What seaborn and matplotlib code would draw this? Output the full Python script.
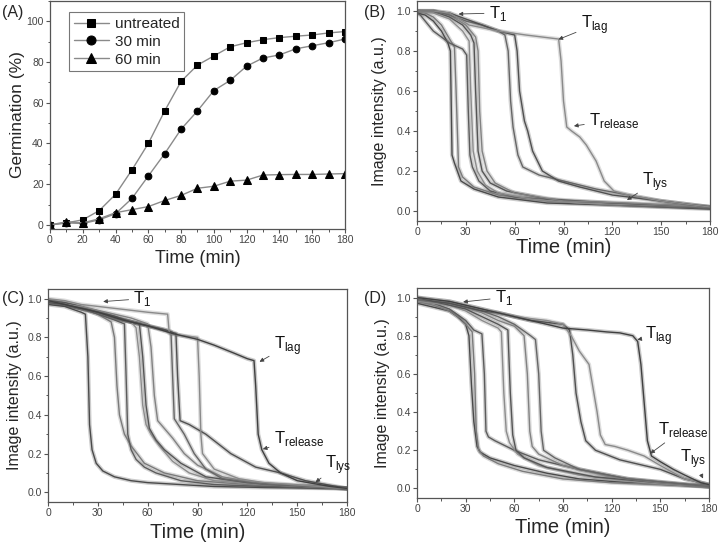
import pandas as pd
import seaborn as sns
import matplotlib.pyplot as plt
from matplotlib.ticker import MultipleLocator

# ---- Panel A: germination (%) vs time ----
time_a = [0, 10, 20, 30, 40, 50, 60, 70, 80, 90, 100, 110, 120, 130, 140, 150, 160, 170, 180]
untreated = [0, 1, 2.5, 7, 15, 27, 40, 56, 70.5, 78.5, 83, 87.5, 89.5, 91, 92, 92.7, 93.3, 94.3, 95]
min30 = [0, 1, 0.7, 2.5, 5.5, 13, 24, 35, 47, 56, 66, 71, 78, 82, 83.5, 86.5, 88, 89.5, 91.3]
min60 = [0, 1.5, 1, 3, 6, 7.5, 9, 12, 14.5, 18, 19, 21.5, 22, 24.5, 24.7, 24.8, 24.8, 25, 25.2]
series_a = ["untreated", "30 min", "60 min"]

# ---- Panels B-D: image intensity traces (key points) ----
traces_b = [
    ([0, 5, 10, 15, 19, 20.5, 21.5, 23, 27, 35, 50, 80, 120, 180],
     [0.99, 0.98, 0.95, 0.9, 0.84, 0.8, 0.28, 0.24, 0.15, 0.11, 0.07, 0.04, 0.03, 0.01]),
    ([0, 5, 10, 15, 20, 23, 24, 25.5, 28, 35, 50, 80, 120, 180],
     [1.0, 0.99, 0.97, 0.93, 0.86, 0.82, 0.6, 0.22, 0.17, 0.12, 0.08, 0.05, 0.03, 0.015]),
    ([0, 2, 10, 20, 28, 30.5, 31.5, 32.5, 34, 38, 45, 60, 90, 130, 180],
     [0.99, 0.98, 0.9, 0.84, 0.81, 0.78, 0.5, 0.28, 0.22, 0.15, 0.1, 0.07, 0.05, 0.03, 0.015]),
    ([0, 10, 20, 28, 32, 33, 34.5, 37, 42, 50, 70, 100, 140, 180],
     [1.0, 0.99, 0.96, 0.9, 0.85, 0.6, 0.3, 0.2, 0.13, 0.09, 0.06, 0.04, 0.03, 0.02]),
    ([0, 10, 20, 28, 33, 35, 36, 37.5, 40, 45, 55, 80, 120, 180],
     [1.0, 1.0, 0.97, 0.93, 0.88, 0.84, 0.6, 0.3, 0.2, 0.14, 0.1, 0.06, 0.04, 0.02]),
    ([0, 10, 20, 30, 36, 37.5, 38.5, 40, 43, 48, 60, 90, 130, 180],
     [1.0, 1.0, 0.98, 0.93, 0.87, 0.8, 0.5, 0.3, 0.2, 0.14, 0.09, 0.05, 0.04, 0.02]),
    ([0, 10, 20, 30, 40, 50, 54, 56, 57.5, 59, 62, 65, 75, 90, 110, 130, 150, 180],
     [1.0, 1.0, 0.98, 0.95, 0.93, 0.9, 0.88, 0.8, 0.55, 0.42, 0.28, 0.22, 0.18, 0.15, 0.11, 0.08, 0.05, 0.02]),
    ([0, 10, 20, 30, 40, 50, 60, 61.5, 63, 66, 68, 71, 77, 87, 100, 120, 150, 180],
     [1.0, 1.0, 0.99, 0.96, 0.93, 0.9, 0.88, 0.8, 0.6, 0.45, 0.4, 0.3, 0.2, 0.15, 0.12, 0.08, 0.05, 0.02]),
    ([0, 10, 20, 32, 50, 67, 87, 88.5, 90, 92, 95, 100, 104, 110, 115, 121, 130, 150, 180],
     [1.0, 1.0, 0.99, 0.93, 0.9, 0.88, 0.86, 0.75, 0.55, 0.42, 0.4, 0.37, 0.33, 0.25, 0.15, 0.1, 0.08, 0.05, 0.02]),
]
traces_c = [
    ([0, 10, 20, 22.5, 24, 25, 26.5, 29, 33, 40, 50, 60, 80, 100, 130, 180],
     [0.97, 0.96, 0.93, 0.92, 0.7, 0.35, 0.22, 0.15, 0.11, 0.08, 0.06, 0.05, 0.04, 0.03, 0.025, 0.02]),
    ([0, 10, 20, 30, 38, 40, 41.5, 43, 46, 50, 58, 70, 90, 120, 150, 180],
     [0.99, 0.97, 0.95, 0.92, 0.88, 0.8, 0.55, 0.4, 0.3, 0.24, 0.15, 0.1, 0.06, 0.04, 0.03, 0.02]),
    ([0, 10, 20, 30, 40, 46, 47, 48, 50, 53, 58, 65, 80, 100, 130, 180],
     [0.98, 0.97, 0.95, 0.92, 0.89, 0.87, 0.6, 0.3, 0.22, 0.17, 0.13, 0.1, 0.06, 0.04, 0.03, 0.02]),
    ([0, 10, 20, 30, 40, 50, 53, 55, 57, 59, 62, 67, 75, 85, 100, 130, 180],
     [0.99, 0.98, 0.95, 0.93, 0.9, 0.88, 0.85, 0.7, 0.45, 0.35, 0.3, 0.24, 0.16, 0.1, 0.06, 0.04, 0.02]),
    ([0, 10, 20, 30, 40, 50, 55, 57, 59, 61, 65, 70, 80, 95, 120, 180],
     [0.99, 0.98, 0.96, 0.93, 0.9, 0.88, 0.87, 0.7, 0.45, 0.33, 0.27, 0.22, 0.15, 0.08, 0.05, 0.02]),
    ([0, 10, 20, 30, 40, 50, 60, 62, 64, 66, 70, 75, 82, 90, 105, 130, 180],
     [0.98, 0.97, 0.96, 0.94, 0.92, 0.9, 0.87, 0.75, 0.5, 0.37, 0.33, 0.28, 0.2, 0.14, 0.08, 0.04, 0.02]),
    ([0, 10, 20, 30, 40, 50, 60, 70, 74, 75, 76, 82, 88, 95, 105, 130, 180],
     [0.99, 0.97, 0.95, 0.93, 0.9, 0.88, 0.86, 0.84, 0.83, 0.6, 0.38, 0.3, 0.2, 0.12, 0.07, 0.04, 0.02]),
    ([0, 10, 20, 30, 40, 50, 60, 70, 77, 78, 79.5, 85, 95, 110, 125, 140, 155, 180],
     [0.98, 0.97, 0.95, 0.93, 0.91, 0.88, 0.86, 0.84, 0.82, 0.6, 0.37, 0.35, 0.3, 0.2, 0.13, 0.1, 0.06, 0.02]),
    ([0, 10, 20, 30, 40, 50, 60, 72, 73, 80, 90, 91, 92, 93, 100, 115, 130, 180],
     [1.0, 0.99, 0.97, 0.96, 0.95, 0.94, 0.93, 0.92, 0.82, 0.81, 0.8, 0.6, 0.3, 0.2, 0.12, 0.07, 0.05, 0.02]),
    ([0, 15, 30, 45, 60, 75, 90, 100, 111.6, 120, 124, 125, 126.5, 128.7, 133, 140, 150, 170, 180],
     [0.99, 0.96, 0.93, 0.89, 0.86, 0.82, 0.79, 0.76, 0.72, 0.69, 0.68, 0.55, 0.3, 0.22, 0.15, 0.1, 0.06, 0.03, 0.02]),
]
traces_d = [
    ([0, 10, 20, 25, 30, 32, 33.5, 35, 37, 39, 45, 60, 80, 100, 130, 180],
     [0.97, 0.95, 0.93, 0.9, 0.86, 0.8, 0.55, 0.35, 0.22, 0.19, 0.16, 0.12, 0.08, 0.05, 0.03, 0.01]),
    ([0, 10, 20, 27, 31, 34, 35.5, 36.5, 38, 41, 50, 65, 90, 120, 180],
     [0.98, 0.96, 0.93, 0.89, 0.85, 0.82, 0.6, 0.3, 0.2, 0.17, 0.13, 0.09, 0.05, 0.03, 0.01]),
    ([0, 10, 20, 30, 35, 40, 41.5, 42.5, 44, 48, 60, 75, 100, 130, 180],
     [0.98, 0.97, 0.94, 0.88, 0.83, 0.81, 0.6, 0.3, 0.27, 0.25, 0.2, 0.15, 0.1, 0.05, 0.01]),
    ([0, 10, 20, 30, 40, 50, 52, 53.5, 55, 57, 62, 75, 100, 140, 180],
     [0.98, 0.97, 0.96, 0.93, 0.88, 0.84, 0.82, 0.5, 0.3, 0.24, 0.18, 0.12, 0.07, 0.03, 0.01]),
    ([0, 10, 20, 30, 40, 50, 56, 57.5, 59, 61, 66, 80, 110, 150, 180],
     [0.99, 0.98, 0.96, 0.94, 0.9, 0.86, 0.83, 0.5, 0.28, 0.2, 0.16, 0.11, 0.06, 0.03, 0.01]),
    ([0, 10, 20, 30, 40, 50, 60, 66, 68, 69.5, 71, 75, 90, 120, 150, 180],
     [0.99, 0.98, 0.97, 0.95, 0.92, 0.88, 0.85, 0.8, 0.6, 0.3, 0.22, 0.18, 0.12, 0.06, 0.03, 0.01]),
    ([0, 10, 20, 30, 40, 50, 60, 70, 73, 75, 76.5, 78, 85, 100, 130, 180],
     [0.99, 0.98, 0.97, 0.95, 0.93, 0.9, 0.86, 0.8, 0.78, 0.6, 0.3, 0.2, 0.16, 0.1, 0.05, 0.01]),
    ([0, 10, 20, 30, 40, 50, 60, 70, 80, 90, 94, 96, 98, 101, 104, 110, 125, 150, 165, 180],
     [1.0, 0.98, 0.97, 0.95, 0.93, 0.92, 0.9, 0.88, 0.87, 0.86, 0.83, 0.7, 0.5, 0.35, 0.25, 0.2, 0.15, 0.1, 0.05, 0.02]),
    ([0, 10, 20, 30, 40, 50, 60, 70, 80, 90, 95, 100, 106, 109, 111, 113, 116, 122, 130, 140, 150, 165, 180],
     [1.0, 0.99, 0.98, 0.96, 0.94, 0.92, 0.9, 0.89, 0.88, 0.86, 0.8, 0.72, 0.65, 0.5, 0.4, 0.28, 0.23, 0.22, 0.2, 0.17, 0.12, 0.05, 0.02]),
    ([0, 10, 20, 30, 45, 60, 75, 90, 105, 117, 125, 133, 136, 138, 140, 142, 144.5, 150, 158, 165, 175, 180],
     [1.0, 0.99, 0.98, 0.96, 0.93, 0.9, 0.87, 0.84, 0.83, 0.82, 0.815, 0.8, 0.77, 0.65, 0.45, 0.25, 0.17, 0.14, 0.1, 0.07, 0.03, 0.02]),
]

# annotation labels: (text position, arrow tip)
labels = ["T$_\\mathregular{1}$", "T$_\\mathregular{lag}$", "T$_\\mathregular{release}$", "T$_\\mathregular{lys}$"]
notes_b = [((44, 0.99), (25.5, 0.985)), ((100.5, 0.93), (86.9, 0.858)),
           ((105.6, 0.455), (96.4, 0.425)), ((138.2, 0.147), (129, 0.055))]
notes_c = [((51.3, 1.0), (33.2, 0.985)), ((135.8, 0.756), (127.3, 0.674)),
           ((135.8, 0.278), (129.3, 0.223)), ((167, 0.141), (161, 0.052))]
notes_d = [((47.9, 1.0), (28.4, 0.977)), ((140.3, 0.80), (135.8, 0.78)),
           ((148.6, 0.31), (143.8, 0.183)), ((162.3, 0.157), (176.3, 0.052))]

sns.set_style("ticks")
plt.rcParams["font.family"] = ["Liberation Sans", "DejaVu Sans"]
plt.rcParams["mathtext.fontset"] = "custom"
plt.rcParams["mathtext.rm"] = "Liberation Sans"

fig = plt.figure(figsize=(7.2, 5.46), dpi=100)
ax_a = fig.add_axes([0.0694, 0.5806, 0.4097, 0.4176])
ax_b = fig.add_axes([0.5792, 0.5952, 0.4069, 0.4029])
ax_c = fig.add_axes([0.0667, 0.0806, 0.4153, 0.3901])
ax_d = fig.add_axes([0.5792, 0.0879, 0.4056, 0.3846])


def style_axis(ax, xstep, ystep):
    for s in ax.spines.values():
        s.set_color("#555555")
        s.set_linewidth(0.9)
    ax.xaxis.set_major_locator(MultipleLocator(xstep))
    ax.xaxis.set_minor_locator(MultipleLocator(xstep / 2))
    ax.yaxis.set_major_locator(MultipleLocator(ystep))
    ax.yaxis.set_minor_locator(MultipleLocator(ystep / 2))
    ax.tick_params(which="major", direction="out", length=3, width=0.8, color="#555555",
                   labelsize=7.5, labelcolor="#444444", pad=1.5)
    ax.tick_params(which="minor", direction="out", length=1.8, width=0.7, color="#555555")


# Panel A
df_a = pd.DataFrame({"time": time_a * 3,
                     "germ": untreated + min30 + min60,
                     "group": [g for g in series_a for _ in time_a]})
for grp, mk, ms in zip(series_a, ["s", "o", "^"], [4, 4.8, 5.2]):
    sub = df_a[df_a["group"] == grp]
    sns.lineplot(data=sub, x="time", y="germ", ax=ax_a, color="#8a8a8a", lw=1,
                 marker=mk, markersize=ms, markerfacecolor="k", markeredgecolor="k",
                 label=grp)
ax_a.set_xlim(0, 180)
ax_a.set_ylim(-2, 110)
style_axis(ax_a, 20, 20)
ax_a.set_xlabel("Time (min)", fontsize=13)
ax_a.set_ylabel("Germination (%)", fontsize=12.5)
ax_a.yaxis.set_label_coords(-0.085, 0.5)
ax_a.xaxis.set_label_coords(0.5, -0.09)
leg = ax_a.legend(loc="upper left", bbox_to_anchor=(0.065, 0.95), fontsize=11,
                  frameon=True, fancybox=False, edgecolor="#555555", handlelength=2.3,
                  borderpad=0.3, labelspacing=0.25, handletextpad=0.4, borderaxespad=0,
                  markerscale=1.35)
leg.get_frame().set_linewidth(0.8)

# Panels B-D
grays = ["#4a4a4a", "#7a7a7a", "#5c5c5c", "#8c8c8c", "#555555", "#828282",
         "#666666", "#505050", "#8a8a8a", "#404040"]
label_pos = {"B": (-0.102, -0.075), "C": (-0.087, -0.097), "D": (-0.092, -0.094)}
for key, ax, traces, notes in [("B", ax_b, traces_b, notes_b), ("C", ax_c, traces_c, notes_c),
                               ("D", ax_d, traces_d, notes_d)]:
    rows = []
    for k, (tt, ii) in enumerate(traces):
        for t, v in zip(tt, ii):
            rows.append((k, t, v))
    df = pd.DataFrame(rows, columns=["trace", "time", "intensity"])
    pal = grays[:len(traces)]
    sns.lineplot(data=df, x="time", y="intensity", hue="trace", units="trace", estimator=None,
                 palette=pal, lw=3.0, alpha=0.28, legend=False, ax=ax)
    sns.lineplot(data=df, x="time", y="intensity", hue="trace", units="trace", estimator=None,
                 palette=pal, lw=1.0, legend=False, ax=ax)
    ax.set_xlim(0, 180)
    ax.set_ylim(-0.05, 1.05)
    style_axis(ax, 30, 0.2)
    ax.yaxis.set_major_formatter(plt.FormatStrFormatter("%.1f"))
    ax.set_xlabel("Time (min)", fontsize=14.5)
    ax.set_ylabel("Image intensity (a.u.)", fontsize=11.5)
    ax.yaxis.set_label_coords(label_pos[key][0], 0.5)
    ax.xaxis.set_label_coords(0.5, label_pos[key][1])
    for lab, (txt, tip) in zip(labels, notes):
        ax.annotate(lab, xy=tip, xytext=txt, fontsize=12, color="#111111",
                    ha="left", va="center",
                    arrowprops=dict(arrowstyle="-|>", color="#444444", lw=0.6,
                                    mutation_scale=6, shrinkA=1, shrinkB=0))

for lab, x, y in [("(A)", 2, 12), ("(B)", 364, 12), ("(C)", 2, 299), ("(D)", 364, 298)]:
    fig.text(x / 720, 1 - y / 546, lab, fontsize=11.5, ha="left", va="center")

fig.savefig("out.png", dpi=100)
